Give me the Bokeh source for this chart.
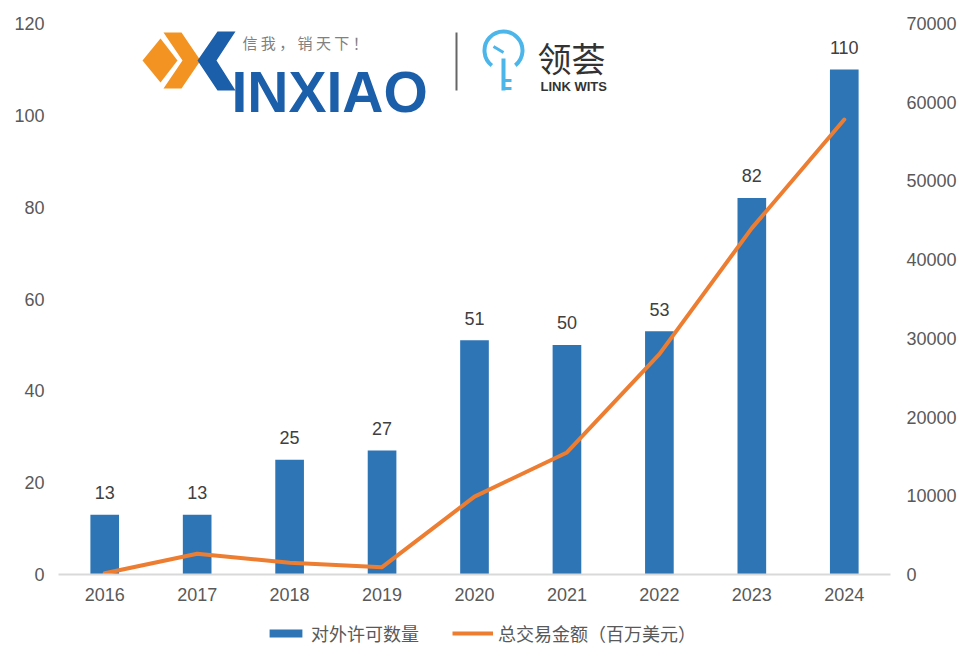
from bokeh.plotting import figure
from bokeh.layouts import column
from bokeh.models import (Range1d, LinearAxis, Legend, LegendItem, FixedTicker, Label)
from bokeh.embed import file_html
from bokeh.resources import INLINE
from bokeh.core.properties import value

# ---------------- data ----------------
years = ["2016", "2017", "2018", "2019", "2020", "2021", "2022", "2023", "2024"]
licenses = [13, 13, 25, 27, 51, 50, 53, 82, 110]                      # 对外许可数量
amounts = [150, 2630, 1480, 930, 9900, 15500, 28000, 44000, 57800]      # 总交易金额（百万美元）
left_ticks = [0, 20, 40, 60, 80, 100, 120]
right_ticks = [0, 10000, 20000, 30000, 40000, 50000, 60000, 70000]
series_names = ["对外许可数量", "总交易金额（百万美元）"]

BLUE = "#2E75B6"
ORANGE = "#ED7D31"
GREY = "#595959"
NUMFONT = "Liberation Sans"
CJK = "Noto Sans CJK SC"
NAN = float("nan")

xs = list(range(1, len(years) + 1))

p = figure(frame_width=832, frame_height=551,
           x_range=Range1d(0.5, len(years) + 0.5), y_range=Range1d(0, 120),
           output_backend="svg", toolbar_location=None,
           min_border_left=58, min_border_right=72, min_border_top=23, min_border_bottom=40)
p.extra_y_ranges = {"amt": Range1d(0, 70000)}
p.outline_line_color = None
p.xgrid.grid_line_color = None
p.ygrid.grid_line_color = None
p.background_fill_color = "white"

bars = p.vbar(x=xs, top=licenses, width=0.31, fill_color=BLUE, line_color=None)
line = p.line(x=xs, y=amounts, y_range_name="amt", line_color=ORANGE, line_width=4,
              line_cap="round", line_join="round")
p.text(x=xs, y=licenses, text=[str(v) for v in licenses], text_align="center",
       text_baseline="middle", y_offset=-22, text_font=value(NUMFONT),
       text_font_size="18px", text_color="#404040")

# x axis
xa = p.xaxis[0]
xa.ticker = FixedTicker(ticks=xs)
xa.major_label_overrides = {i: y for i, y in zip(xs, years)}
xa.axis_line_color = "#D9D9D9"
xa.axis_line_width = 2
xa.major_tick_line_color = None
xa.minor_tick_line_color = None
xa.major_tick_out = 0
xa.major_tick_in = 0
xa.major_label_standoff = 13
xa.major_label_text_font = NUMFONT
xa.major_label_text_font_size = "18px"
xa.major_label_text_color = GREY

# left axis
ya = p.yaxis[0]
ya.ticker = FixedTicker(ticks=left_ticks)
ya.axis_line_color = None
ya.major_tick_line_color = None
ya.minor_tick_line_color = None
ya.major_tick_out = 0
ya.major_tick_in = 0
ya.major_label_standoff = 14
ya.major_label_text_font = NUMFONT
ya.major_label_text_font_size = "18px"
ya.major_label_text_color = GREY

# right axis
ra = LinearAxis(y_range_name="amt", ticker=FixedTicker(ticks=right_ticks))
ra.axis_line_color = None
ra.major_tick_line_color = None
ra.minor_tick_line_color = None
ra.major_tick_out = 0
ra.major_tick_in = 0
ra.major_label_standoff = 16
ra.major_label_text_font = NUMFONT
ra.major_label_text_font_size = "18px"
ra.major_label_text_color = GREY
p.add_layout(ra, "right")

# ---------------- logo (decoration) ----------------
def sx(px):
    return 0.5 + (px - 58) / 832 * 9

def sy(py):
    return (574 - py) / 551 * 120

def poly(pts):
    return [sx(a) for a, b in pts], [sy(b) for a, b in pts]

dx, dy = poly([(142, 60), (160, 38), (177, 60), (160, 82)])
cx, cy = poly([(163, 32), (181, 32), (200, 60), (181, 88), (163, 88), (182, 60)])
bx, by = poly([(217, 31), (235, 31), (216, 60), (235, 90), (217, 90), (197, 60)])
p.patches(xs=[dx, cx, bx], ys=[dy, cy, by],
          fill_color=["#F39321", "#F39321", "#1B5FAA"], line_color=None)

p.add_layout(Label(x=sx(231), y=sy(91), text="INXIAO", text_font=NUMFONT,
                   text_font_style="bold", text_font_size="57px", text_color="#1B5FAA",
                   text_baseline="alphabetic"))
p.add_layout(Label(x=sx(242), y=sy(31), text="信 我 ， 销 天 下 ！", text_font=CJK,
                   text_font_size="15px", text_color="#808080", text_baseline="top"))
p.segment(x0=[sx(456)], y0=[sy(32)], x1=[sx(456)], y1=[sy(90)],
          line_color="#666666", line_width=2)
# key-tree icon
p.arc(x=[sx(503)], y=[sy(50)], radius=19, radius_units="screen",
      start_angle=-0.9, end_angle=4.05, line_color="#4CB5EA", line_width=4)
p.segment(x0=[sx(503)], y0=[sy(58)], x1=[sx(503)], y1=[sy(90)],
          line_color="#4CB5EA", line_width=4)
p.segment(x0=[sx(493), sx(503), sx(503)], y0=[sy(46), sy(80), sy(88)],
          x1=[sx(503), sx(511), sx(511)], y1=[sy(52), sy(80), sy(88)],
          line_color="#4CB5EA", line_width=3)
p.add_layout(Label(x=sx(537), y=sy(32), text="领荟", text_font=CJK,
                   text_font_size="34px", text_color="#333333", text_baseline="top"))
p.add_layout(Label(x=sx(540), y=sy(86), text="LINK WITS", text_font=NUMFONT,
                   text_font_style="bold", text_font_size="13px", text_color="#333333",
                   text_baseline="alphabetic"))

# ---------------- legend strip ----------------
pl = figure(width=962, height=44, x_range=Range1d(0, 1), y_range=Range1d(0, 1),
            output_backend="svg", toolbar_location=None,
            x_axis_type=None, y_axis_type=None, min_border=0)
pl.outline_line_color = None
pl.xgrid.grid_line_color = None
pl.ygrid.grid_line_color = None
lb = pl.vbar(x=[NAN], top=[NAN], width=0.31, fill_color=BLUE, line_color=None)
ll = pl.line(x=[NAN, NAN], y=[NAN, NAN], line_color=ORANGE, line_width=4)
legend = Legend(items=[LegendItem(label=series_names[0], renderers=[lb]),
                       LegendItem(label=series_names[1], renderers=[ll])],
                orientation="horizontal", location=(207, 12),
                label_text_font=CJK, label_text_font_size="18px", label_text_color=GREY,
                glyph_width=41, glyph_height=10, spacing=33, label_standoff=5,
                border_line_color=None, background_fill_alpha=0, padding=0, margin=0)
pl.add_layout(legend, "center")

layout = column(p, pl, spacing=0)
open("out.html", "w").write(file_html(layout, INLINE))
